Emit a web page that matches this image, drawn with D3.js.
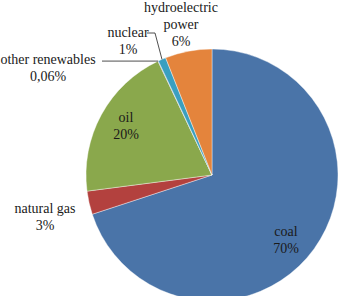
<!DOCTYPE html>
<html>
<head>
<meta charset="utf-8">
<script src="https://cdn.jsdelivr.net/npm/d3@7"></script>
<style>
  body { margin: 0; background: #fff; }
</style>
</head>
<body>
<script>
  // energy mix shares, percent
  var sources = ["coal", "natural gas", "oil", "other renewables", "nuclear", "hydroelectric power"];
  var shares = [70, 3, 20, 0.06, 1, 6];
  var shareLabels = ["70%", "3%", "20%", "0,06%", "1%", "6%"];
  var colors = ["#4a74a8", "#b3413e", "#8aa84c", "#7a5fa3", "#3a9fc0", "#e4843c"];

  var width = 340,
    height = 296;

  var cx = 212, cy = 175, r = 126;

  var svg = d3.select("body").append("svg")
    .attr("width", width)
    .attr("height", height);

  var pie = d3.pie().sort(null).value(function(d) { return d; });
  var arcs = pie(shares);

  var arc = d3.arc().innerRadius(0).outerRadius(r);

  var g = svg.append("g").attr("transform", "translate(" + cx + "," + cy + ")");

  g.selectAll("path")
    .data(arcs)
    .enter().append("path")
      .attr("d", arc)
      .attr("fill", function(d, i) { return colors[i]; })
      .attr("stroke", "#fff")
      .attr("stroke-width", 0.4);

  // label text lines and placement (offsets from pie centre)
  var labelLines = [
    ["coal", shareLabels[0]],
    ["natural gas", shareLabels[1]],
    ["oil", shareLabels[2]],
    ["other renewables", shareLabels[3]],
    ["nuclear", shareLabels[4]],
    ["hydroelectric", "power", shareLabels[5]]
  ];
  var labelPos = [
    [74, 61], [-167, 38], [-86, -53], [-164, -111], [-84, -138], [-31, -163]
  ];

  labelLines.forEach(function(lines, i) {
    var t = g.append("text")
      .attr("font-family", "'Liberation Serif', 'Times New Roman', serif")
      .attr("font-size", 14)
      .attr("fill", "#1a1a1a")
      .attr("text-anchor", "middle")
      .attr("x", labelPos[i][0])
      .attr("y", labelPos[i][1]);
    lines.forEach(function(s, j) {
      t.append("tspan")
        .attr("x", labelPos[i][0])
        .attr("dy", j ? 17 : 0)
        .text(s);
    });
  });

  // leader lines for the two thin slices
  function edge(d) {
    var a = (d.startAngle + d.endAngle) / 2;
    return [Math.sin(a) * r, -Math.cos(a) * r];
  }
  var e3 = edge(arcs[3]), e4 = edge(arcs[4]);
  var line = d3.line();
  g.append("path")
    .attr("d", line([[-110, e3[1]], [e3[0] - 3, e3[1]], e3]))
    .attr("fill", "none").attr("stroke", "#222").attr("stroke-width", 0.8);
  g.append("path")
    .attr("d", line([[-65, -142], [-57, -142], e4]))
    .attr("fill", "none").attr("stroke", "#222").attr("stroke-width", 0.8);
</script>
</body>
</html>
